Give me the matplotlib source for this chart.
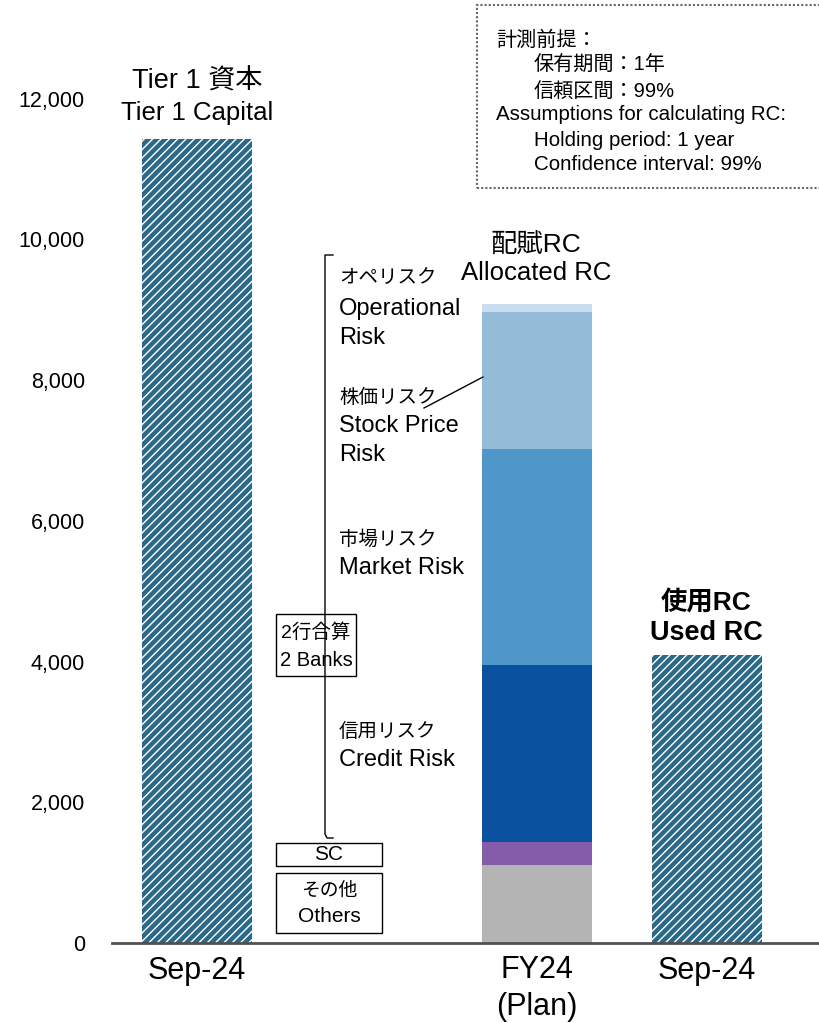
import matplotlib
matplotlib.use("Agg")
import matplotlib.pyplot as plt
from matplotlib.patches import Rectangle
from matplotlib.lines import Line2D

plt.rcParams['font.family'] = ['Liberation Sans', 'Noto Sans CJK JP']
plt.rcParams['hatch.linewidth'] = 1.0

# data (100 million yen)
tier1_capital = 11430
used_rc = 4090
alloc_parts = ['Others', 'SC', 'Credit Risk', 'Market Risk', 'Stock Price Risk', 'Operational Risk']
alloc_values = [1110, 325, 2515, 3065, 1945, 115]
alloc_colors = ['#b4b4b4', '#855ca9', '#0a52a0', '#4f97c9', '#94bcd9', '#c9ddee']
x_pos = [0, 2, 3]
x_labels = ['Sep-24', 'FY24\n(Plan)', 'Sep-24']
y_ticks = [0, 2000, 4000, 6000, 8000, 10000, 12000]

W, H = 820, 1023
fig = plt.figure(figsize=(W / 100, H / 100), dpi=100)
ax = fig.add_axes([112 / W, 1 - 943 / H, 1 - 112 / W, 943 / H])


def px(x, y):
    # pixel position in the picture -> figure fraction
    return x / W, 1 - y / H


def lines(x, ys, texts, sizes, ha='left', **kw):
    for y, t, s in zip(ys, texts, sizes):
        fig.text(*px(x, y), t, ha=ha, va='center', fontsize=s, **kw)


teal = '#2a6988'
bw = 0.65
ax.bar(x_pos[0], tier1_capital, width=bw, color=teal, edgecolor='white',
       hatch='////', linewidth=0)
ax.bar(x_pos[2], used_rc, width=bw, color=teal, edgecolor='white',
       hatch='////', linewidth=0)

bottom = 0
for v, c in zip(alloc_values, alloc_colors):
    ax.bar(x_pos[1], v, width=bw, bottom=bottom, color=c, linewidth=0)
    bottom += v

ax.set_xlim(-0.5, 3.665)
ax.set_ylim(0, 13400)
ax.set_yticks(y_ticks)
ax.set_yticklabels([f'{t:,}' for t in y_ticks])
ax.set_xticks(x_pos)
ax.set_xticklabels(x_labels, fontsize=22, linespacing=1.3)
ax.tick_params(axis='y', length=0, pad=19.5, labelsize=15.5)
ax.tick_params(axis='x', length=0, pad=9)
for s in ['top', 'right', 'left']:
    ax.spines[s].set_visible(False)
ax.spines['bottom'].set_color('#505050')
ax.spines['bottom'].set_linewidth(2)

# headings above bars
lines(197, [82, 113], ['Tier 1 資本', 'Tier 1 Capital'], [19.5, 18.5], ha='center')
lines(536, [245, 273], ['配賦RC', 'Allocated RC'], [19, 18.5], ha='center')
lines(706, [603, 633], ['使用RC', 'Used RC'], [19, 19.5], ha='center',
      fontweight='bold')

# risk labels
jp, en = 14, 17
lines(339, [278, 309, 338], ['オペリスク', 'Operational', 'Risk'], [jp, en, en])
lines(339, [398, 426, 455], ['株価リスク', 'Stock Price', 'Risk'], [jp, en, en])
lines(339, [540, 568], ['市場リスク', 'Market Risk'], [jp, en])
lines(339, [732, 760], ['信用リスク', 'Credit Risk'], [jp, en])

# leader line for stock price risk
x1, y1 = px(424, 408)
x2, y2 = px(483, 377)
fig.add_artist(Line2D([x1, x2], [y1, y2], color='black', lw=1))

# bracket
bx = [333, 325, 325, 327, 333]
by = [255, 255, 834, 838, 838]
fig.add_artist(Line2D([b / W for b in bx], [1 - b / H for b in by],
                      color='black', lw=1))


def box(x0, y0, x1, y1):
    fig.add_artist(Rectangle(px(x0, y1), (x1 - x0) / W, (y1 - y0) / H,
                             facecolor='white', edgecolor='black', lw=1))


box(276, 614, 356, 676)
lines(316, [633, 660], ['2行合算', '2 Banks'], [14, 14.5], ha='center')
box(276, 843, 382, 866)
lines(329, [855], ['SC'], [15], ha='center')
box(276, 873, 382, 933)
lines(329, [891, 917], ['その他', 'Others'], [13.5, 15], ha='center')

# assumptions box
fig.add_artist(Rectangle(px(477, 188), (830 - 477) / W, (188 - 5) / H,
                         facecolor='none', edgecolor='#666666', lw=1.5,
                         linestyle=(0, (1, 1))))
lines(496, [40], ['計測前提：'], [14.5])
lines(534, [65, 91], ['保有期間：1年', '信頼区間：99%'], [14.5, 14.5])
lines(496, [114], ['Assumptions for calculating RC:'], [14.8])
lines(534, [140, 165], ['Holding period: 1 year', 'Confidence interval: 99%'],
      [14.8, 14.8])

fig.savefig('out.png', dpi=100)
